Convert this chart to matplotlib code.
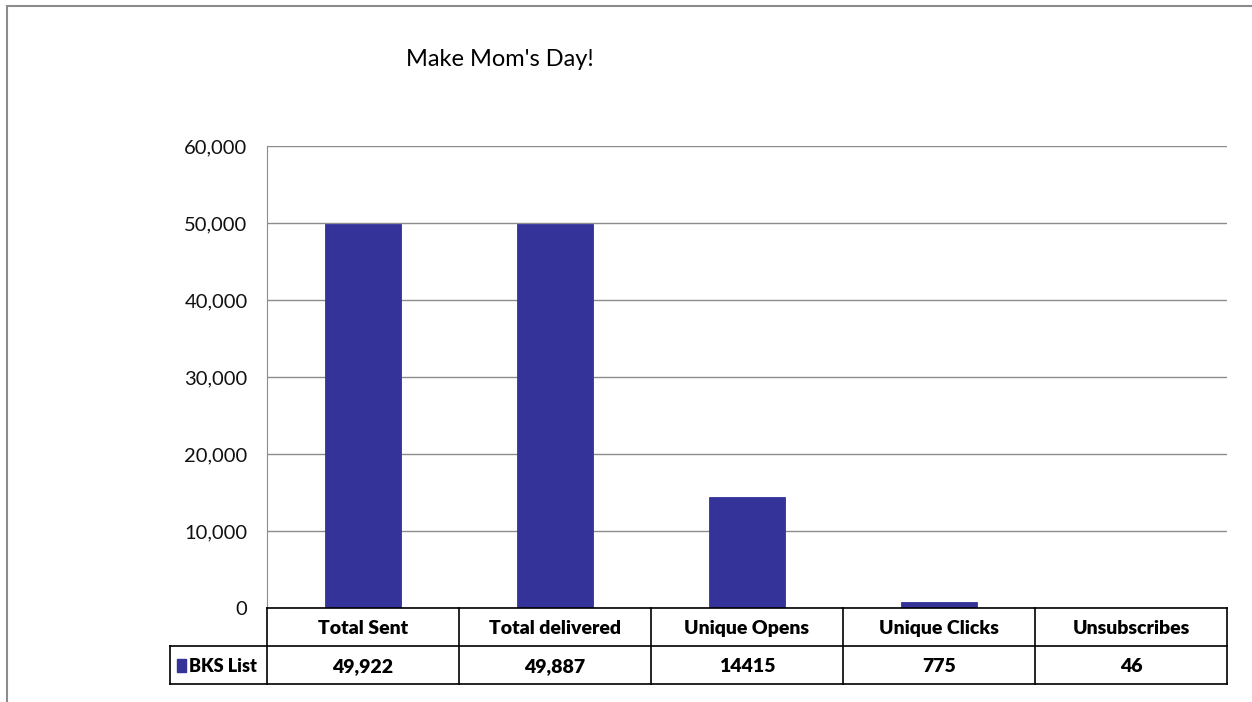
import matplotlib.pyplot as plt
from matplotlib.patches import Rectangle
from matplotlib.ticker import FuncFormatter

# data
categories = ['Total Sent', 'Total delivered', 'Unique Opens', 'Unique Clicks', 'Unsubscribes']
values = [49922, 49887, 14415, 775, 46]
value_labels = ['49,922', '49,887', '14415', '775', '46']
series_name = 'BKS List'
yticks = [0, 10000, 20000, 30000, 40000, 50000, 60000]

BAR_COLOR = '#333399'
GRID_COLOR = '#8c8c8c'
FONT = 'Lato'

W, H = 1252, 702
fig = plt.figure(figsize=(W / 100, H / 100), dpi=100)

# outer chart border (left and top only visible)
fig.patches.append(Rectangle((7 / W, -0.2), 1.2, 1.2 - 6 / H, transform=fig.transFigure,
                             fill=False, edgecolor=GRID_COLOR, linewidth=1.5))

ax = fig.add_axes([267 / W, 1 - 608 / H, 960 / W, 462 / H])
x = range(len(categories))
ax.bar(x, values, width=0.4, color=BAR_COLOR, edgecolor=BAR_COLOR, linewidth=0.6, zorder=3)
ax.set_xlim(-0.5, len(categories) - 0.5)
ax.set_ylim(0, 60000)
ax.set_yticks(yticks)
ax.yaxis.set_major_formatter(FuncFormatter(lambda v, p: '{:,.0f}'.format(v)))
ax.tick_params(axis='y', length=0, pad=14, labelsize=14.5, labelcolor='#111111')
ax.set_xticks([])
for lbl in ax.get_yticklabels():
    lbl.set_family(FONT)
ax.grid(axis='y', color=GRID_COLOR, linewidth=1, zorder=0)
for side in ['top', 'right', 'bottom']:
    ax.spines[side].set_visible(False)
ax.spines['left'].set_color(GRID_COLOR)

# data table under the plot
tax = fig.add_axes([170 / W, 1 - 684 / H, 1057 / W, 76 / H])
label_w = 97 / 192.0
tax.set_xlim(-0.5 - label_w, len(categories) - 0.5)
tax.set_ylim(0, 2)
tax.axis('off')
lk = dict(color='black', linewidth=1.2, clip_on=False, zorder=5)
left_edge = -0.5 - label_w
right_edge = len(categories) - 0.5
tax.plot([-0.5, right_edge], [2, 2], **lk)
tax.plot([left_edge, right_edge], [1, 1], **lk)
tax.plot([left_edge, right_edge], [0, 0], **lk)
tax.plot([left_edge, left_edge], [0, 1], **lk)
for i in range(len(categories) + 1):
    tax.plot([i - 0.5, i - 0.5], [0, 2], **lk)

for i, (cat, lab) in enumerate(zip(categories, value_labels)):
    tax.text(i, 1.47, cat, ha='center', va='center', fontsize=14, fontweight='heavy', family=FONT)
    tax.text(i, 0.47, lab, ha='center', va='center', fontsize=14, fontweight='heavy', family=FONT)

tax.add_patch(Rectangle((left_edge + 0.037, 0.31), 0.045, 0.36, color=BAR_COLOR, clip_on=False))
tax.text(left_edge + 0.1, 0.47, series_name, ha='left', va='center', fontsize=13,
         fontweight='heavy', family=FONT)

fig.text(500 / W, 1 - 60 / H, "Make Mom's Day!", ha='center', va='center', fontsize=17, family=FONT)

fig.savefig('out.png', dpi=100)
